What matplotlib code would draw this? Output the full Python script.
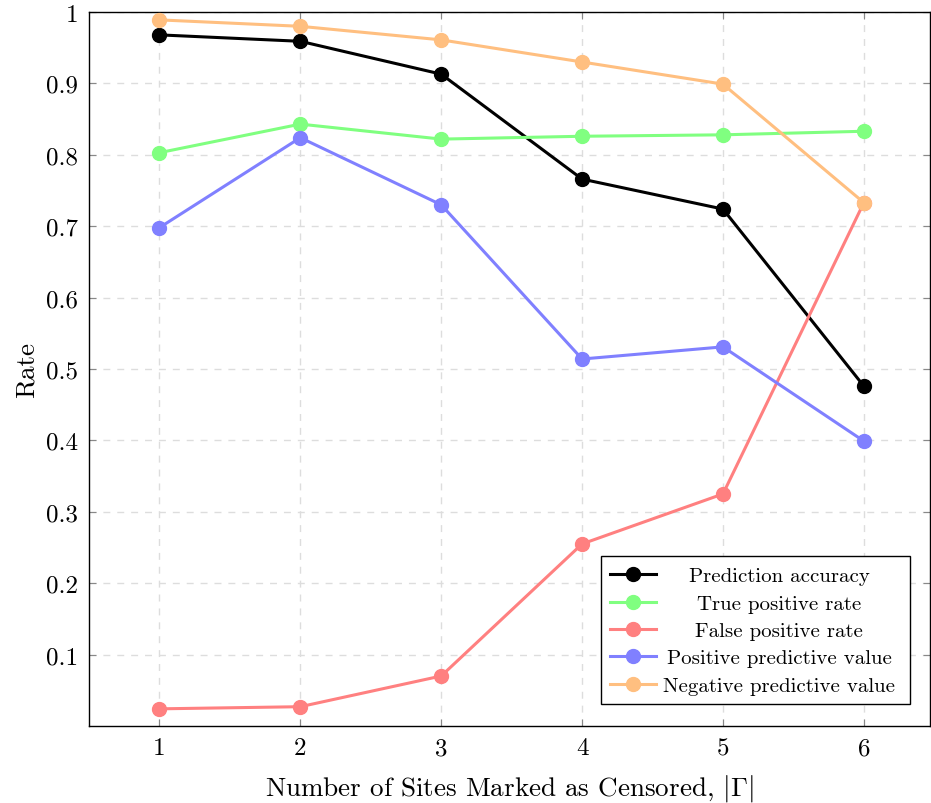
import matplotlib
matplotlib.use("Agg")
import matplotlib.pyplot as plt
from matplotlib.patches import Rectangle
from matplotlib.lines import Line2D

plt.rcParams['font.family'] = ['cmr10', 'DejaVu Serif']
plt.rcParams['mathtext.fontset'] = 'cm'
plt.rcParams['axes.formatter.use_mathtext'] = True

sites = [1, 2, 3, 4, 5, 6]
accuracy = [0.968, 0.959, 0.913, 0.766, 0.724, 0.476]
tpr = [0.803, 0.843, 0.822, 0.826, 0.828, 0.833]
fpr = [0.024, 0.027, 0.070, 0.255, 0.325, 0.733]
ppv = [0.698, 0.824, 0.730, 0.514, 0.531, 0.399]
npv = [0.989, 0.980, 0.961, 0.930, 0.899, 0.733]

series = [
    ("Prediction accuracy", accuracy, (0, 0, 0)),
    ("True positive rate", tpr, (0.5, 1.0, 0.5)),
    ("False positive rate", fpr, (1.0, 0.5, 0.5)),
    ("Positive predictive value", ppv, (0.5, 0.5, 1.0)),
    ("Negative predictive value", npv, (1.0, 0.75, 0.5)),
]

x_ticks = [1, 2, 3, 4, 5, 6]
y_ticks = [0.1, 0.2, 0.3, 0.4, 0.5, 0.6, 0.7, 0.8, 0.9, 1.0]
y_tick_labels = ["0.1", "0.2", "0.3", "0.4", "0.5", "0.6", "0.7", "0.8", "0.9", "1"]

LW = 2.2
MS = 10

fig = plt.figure(figsize=(9.31, 8.04), dpi=100)
ax = fig.add_axes([0.0956, 0.0958, 0.9034, 0.888])

for label, vals, color in series:
    ax.plot(sites, vals, color=color, lw=LW, marker='o', markersize=MS,
            label=label, zorder=3)

ax.set_xlim(0.5, 6.47)
ax.set_ylim(0, 1)
ax.set_xticks(x_ticks)
ax.set_xticklabels([str(v) for v in x_ticks])
ax.set_yticks(y_ticks)
ax.set_yticklabels(y_tick_labels)
ax.tick_params(direction='in', top=True, right=True, length=5,
               color='#888888', labelsize=18, pad=8)
ax.grid(True, linestyle=(0, (5, 5)), color='#dddddd', lw=1.0, zorder=0)
for s in ax.spines.values():
    s.set_linewidth(1.0)

ax.set_xlabel(r"Number of Sites Marked as Censored, $|\Gamma|$", fontsize=19.5, labelpad=9)
ax.set_ylabel("Rate", fontsize=19.5, labelpad=5)

# Legend box with centred entry text (pgfplots style), drawn in axes coordinates
box_x0, box_x1 = 0.6088, 0.9762
box_y0, box_y1 = 0.0308, 0.2380
ax.add_patch(Rectangle((box_x0, box_y0), box_x1 - box_x0, box_y1 - box_y0,
                       transform=ax.transAxes, facecolor='white',
                       edgecolor='black', lw=1.0, zorder=5))
row_y = [0.2129, 0.1741, 0.1359, 0.0980, 0.0588]
handle_x0, handle_x1 = 0.6195, 0.6742
text_cx = 0.8205
for (label, _, color), yy in zip(series, row_y):
    ax.add_line(Line2D([handle_x0, handle_x1], [yy, yy], transform=ax.transAxes,
                       color=color, lw=LW, zorder=6))
    ax.add_line(Line2D([(handle_x0 + handle_x1) / 2], [yy], transform=ax.transAxes,
                       color=color, marker='o', markersize=MS, lw=0, zorder=7))
    ax.text(text_cx, yy, label, transform=ax.transAxes, ha='center',
            va='center_baseline', fontsize=15, zorder=7)

fig.savefig("out.png", dpi=100)
